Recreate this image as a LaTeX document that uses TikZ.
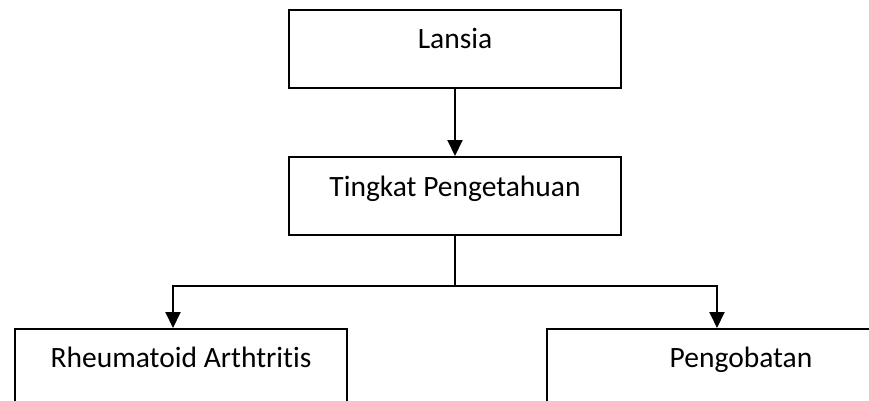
\documentclass[tikz,border=0pt]{standalone}
\usepackage{fontspec}
\setmainfont{Carlito}[Ligatures=NoCommon]
\usetikzlibrary{arrows.meta}
\begin{document}
\begin{tikzpicture}[x=1pt,y=-1pt,
  box/.style={draw, line width=2pt, inner sep=0pt, minimum width=332pt,
    text height=39pt, text depth=39pt, anchor=north west,
    font=\fontsize{29.5}{35}\selectfont},
  conn/.style={line width=2pt, -{Triangle[length=16pt,width=15pt]}},
  link/.style={line width=2pt}]
\useasboundingbox (0,0) rectangle (869,401);
\clip (0,0) rectangle (869,401);
\node[box] (lansia) at (288,9) {Lansia};
\node[box] (tingkat) at (288,156) {Tingkat Pengetahuan};
\node[box, text height=38pt, text depth=60pt] (ra) at (14,328) {Rheumatoid Arthtrit\kern0pt is};
\node[box, minimum width=388pt, text height=38pt, text depth=60pt] (pg) at (546,328) {Pengobatan};
\path (ra.north west) ++(159,0) coordinate (raTop);
\path (pg.north west) ++(171,0) coordinate (pgTop);
\draw[conn] (lansia.south) -- (tingkat.north);
\draw[link] (tingkat.south) -- ++(0,50) coordinate (split);
\draw[conn] (split) -| (raTop);
\draw[conn] (split) -| (pgTop);
\end{tikzpicture}
\end{document}
